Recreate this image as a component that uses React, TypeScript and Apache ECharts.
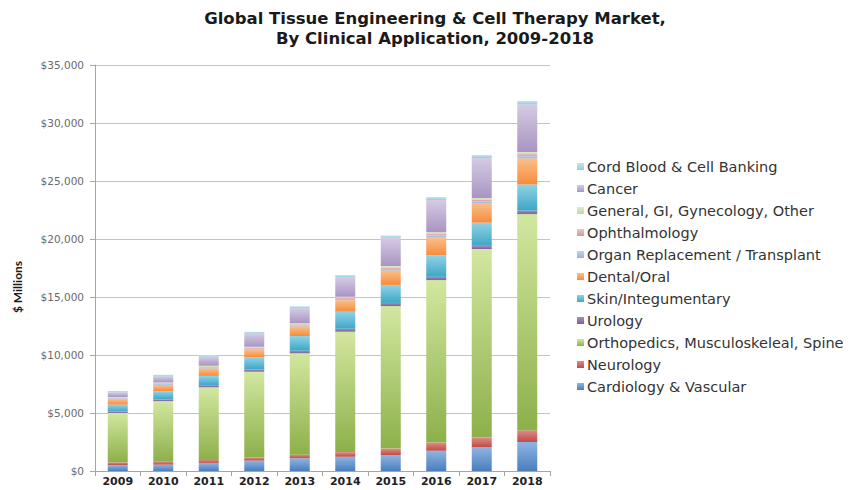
import React, { useEffect, useRef } from "react";
import * as echarts from "echarts";

const years = ["2009", "2010", "2011", "2012", "2013", "2014", "2015", "2016", "2017", "2018"];
const yTicks = [0, 5000, 10000, 15000, 20000, 25000, 30000, 35000];

const cardiology = [500, 550, 700, 900, 1100, 1230, 1380, 1750, 2050, 2500];
const neurology = [250, 250, 250, 260, 300, 400, 550, 700, 850, 1000];
const orthopedics = [4250, 5230, 6270, 7400, 8750, 10380, 12290, 14010, 16240, 18650];
const urology = [120, 150, 180, 200, 220, 250, 270, 280, 270, 300];
const skin = [600, 700, 800, 1050, 1270, 1470, 1550, 1850, 2000, 2250];
const dental = [480, 550, 650, 650, 830, 1000, 1250, 1560, 1700, 2250];
const organ = [70, 80, 90, 100, 100, 110, 150, 170, 160, 220];
const ophthalmology = [50, 60, 60, 70, 80, 90, 110, 130, 130, 170];
const general = [60, 60, 70, 80, 80, 90, 120, 130, 130, 170];
const cancer = [400, 520, 780, 1130, 1300, 1690, 2450, 2780, 3450, 4100];
const cordBlood = [120, 150, 150, 160, 170, 180, 180, 260, 260, 290];

const seriesDefs = [
  { name: "Cardiology & Vascular", data: cardiology, top: "#8fb4e3", base: "#4a7ebb" },
  { name: "Neurology", data: neurology, top: "#e08a87", base: "#be4b48" },
  { name: "Orthopedics, Musculoskeleal, Spine", data: orthopedics, top: "#d2e7a0", base: "#8db04a" },
  { name: "Urology", data: urology, top: "#a28ec0", base: "#7d60a0" },
  { name: "Skin/Integumentary", data: skin, top: "#8fd3e8", base: "#3fa6c4" },
  { name: "Dental/Oral", data: dental, top: "#fbbf8a", base: "#f68c3c" },
  { name: "Organ Replacement / Transplant", data: organ, top: "#c4d5ea", base: "#95b3d7" },
  { name: "Ophthalmology", data: ophthalmology, top: "#ecc6c5", base: "#d99694" },
  { name: "General, GI, Gynecology, Other", data: general, top: "#e3edcf", base: "#c3d69b" },
  { name: "Cancer", data: cancer, top: "#d5cbe3", base: "#a895c2" },
  { name: "Cord Blood & Cell Banking", data: cordBlood, top: "#c4e6ef", base: "#93cddd" },
];

export default function App() {
  const ref = useRef<HTMLDivElement>(null);

  useEffect(() => {
    if (!ref.current) return;
    const chart = echarts.init(ref.current, null, { renderer: "svg" });
    const wide = "'DejaVu Sans', Verdana, sans-serif";
    const narrow = "Lato, 'Open Sans', sans-serif";
    chart.setOption({
      animation: false,
      backgroundColor: "#ffffff",
      title: {
        text: "Global Tissue Engineering & Cell Therapy Market,\nBy Clinical Application, 2009-2018",
        left: 430,
        textAlign: "center",
        top: 3,
        textStyle: {
          fontFamily: wide,
          fontSize: 16.5,
          fontWeight: "bold",
          color: "#1a1a1a",
          lineHeight: 20,
        },
      },
      legend: {
        orient: "vertical",
        left: 572,
        top: 154,
        itemWidth: 7,
        itemHeight: 7,
        itemGap: 7,
        icon: "rect",
        textStyle: { fontFamily: wide, fontSize: 14.5, color: "#333", lineHeight: 14, padding: [0, 0, 0, -2] },
        data: seriesDefs.map((s) => s.name).reverse(),
      },
      grid: { left: 95, right: 301, top: 65, bottom: 19, containLabel: false },
      xAxis: {
        type: "category",
        data: years,
        axisLine: { lineStyle: { color: "#a6a6a6" } },
        axisTick: { show: true, length: 5, lineStyle: { color: "#a6a6a6" } },
        axisLabel: { fontFamily: wide, fontSize: 11, fontWeight: "bold", color: "#222", margin: 5 },
      },
      yAxis: {
        type: "value",
        min: 0,
        max: 35000,
        interval: 5000,
        axisLine: { show: true, lineStyle: { color: "#a6a6a6" } },
        axisTick: { show: true, length: 5, lineStyle: { color: "#a6a6a6" } },
        splitLine: { lineStyle: { color: "#c4c4c4" } },
        axisLabel: {
          fontFamily: wide,
          fontSize: 10.5,
          color: "#6a6a6a",
          margin: 11,
          formatter: (v: number) => (yTicks.includes(v) ? "$" + v.toLocaleString("en-US") : ""),
        },
      },
      graphic: [
        {
          type: "text",
          x: 17,
          y: 287,
          rotation: Math.PI / 2,
          style: {
            text: "$ Millions",
            fontFamily: narrow,
            fontSize: 12,
            fontWeight: "bold",
            fill: "#1a1a1a",
            align: "center",
            verticalAlign: "middle",
          },
        },
      ],
      series: seriesDefs.map((s) => ({
        name: s.name,
        type: "bar",
        stack: "total",
        barWidth: 20,
        data: s.data,
        itemStyle: {
          color: new echarts.graphic.LinearGradient(0, 0, 0, 1, [
            { offset: 0, color: s.top },
            { offset: 1, color: s.base },
          ]),
        },
      })),
    });
    return () => chart.dispose();
  }, []);

  return (
    <div
      ref={ref}
      style={{ width: 851, height: 490, position: "absolute", left: 0, top: 0 }}
    />
  );
}
